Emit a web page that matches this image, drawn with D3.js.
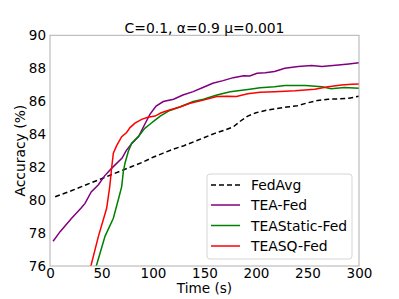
<!DOCTYPE html>
<html><head><meta charset="utf-8">
<script src="https://cdn.jsdelivr.net/npm/d3@7"></script>
<style>body{margin:0;background:#fff}svg{display:block}text{font-family:"DejaVu Sans",sans-serif}</style>
</head><body><svg id="c" width="399" height="299"></svg>
<script>
const title = "C=0.1, \u03b1=0.9 \u03bc=0.001";
const xTicks = [0,50,100,150,200,250,300];
const yTicks = [76,78,80,82,84,86,88,90];
const seriesNames = ["FedAvg","TEA-Fed","TEAStatic-Fed","TEASQ-Fed"];
const fedAvgT = [5,10,20,30,40,50,60,70,80,90,100,110,120,130,140,150,160,170,178,185,192,200,210,220,230,240,250,260,270,280,290,300];
const fedAvgV = [80.2,80.32,80.55,80.8,81.05,81.3,81.55,81.8,82.05,82.3,82.6,82.85,83.1,83.3,83.55,83.8,84.05,84.25,84.45,84.8,85.1,85.3,85.45,85.55,85.65,85.72,85.9,86.05,86.12,86.14,86.18,86.3];
const teaT = [3,10,21,30,34,40,47,53,60,70,74,79,86,92,97,103,110,120,129,139,149,158,168,178,188,194,201,209,218,228,241,254,264,280,290,300];
const teaV = [77.5,78.1,78.9,79.5,79.8,80.5,80.93,81.47,81.94,82.55,83.0,83.4,83.85,84.6,85.2,85.7,85.98,86.12,86.38,86.58,86.85,87.09,87.25,87.43,87.55,87.53,87.7,87.73,87.8,88.0,88.1,88.16,88.1,88.2,88.26,88.33];
const staticT = [42,45.3,53.4,61.5,66.3,69.6,71.2,72.8,76,79.3,85.7,92,97,102,107,115,126,139,149,162,175,194,204,218,228,248,264,273,286,300];
const staticV = [75.3,76.08,77.8,78.9,80.02,80.82,81.73,82.24,82.95,83.45,83.85,84.35,84.6,84.85,85.1,85.4,85.65,85.98,86.12,86.38,86.58,86.73,86.82,86.88,86.95,86.95,86.88,86.75,86.83,86.79];
const sqT = [36,40,47,55,58,60,61.5,64.7,69.6,74.4,77.7,82.5,89,95,102,108,116,126,136,148,162,172,181,192,204,218,238,257,270,283,293,300];
const sqV = [75.5,76.08,77.8,79.5,80.82,82.04,82.85,83.3,83.85,84.1,84.4,84.67,84.9,85.03,85.1,85.3,85.47,85.65,85.88,86.05,86.28,86.3,86.28,86.45,86.55,86.58,86.64,86.73,86.88,86.99,87.03,87.05];
const colors = ["#000000","#800080","#008000","#ff0000"];
const dashes = ["5,3",null,null,null];

const svg = d3.select("#c");
const m = {l:50,r:359,t:35.3,b:266};
const x = d3.scaleLinear().domain([0,300]).range([m.l,m.r]);
const y = d3.scaleLinear().domain([76,90]).range([m.b,m.t]);

svg.append("defs").append("clipPath").attr("id","clip").append("rect")
  .attr("x",m.l).attr("y",m.t).attr("width",m.r-m.l).attr("height",m.b-m.t);

const data = [[fedAvgT,fedAvgV],[teaT,teaV],[staticT,staticV],[sqT,sqV]];
const line = d3.line().x(d=>x(d[0])).y(d=>y(d[1]));
const g = svg.append("g").attr("clip-path","url(#clip)");
data.forEach((s,i)=>{
  const pts = s[0].map((t,j)=>[t,s[1][j]]);
  g.append("path").datum(pts).attr("d",line).attr("fill","none")
    .attr("stroke",colors[i]).attr("stroke-width",1.5)
    .attr("stroke-dasharray",dashes[i]);
});

// frame
svg.append("rect").attr("x",m.l).attr("y",m.t).attr("width",m.r-m.l).attr("height",m.b-m.t)
  .attr("fill","none").attr("stroke","#b0b0b0").attr("stroke-width",1);

const xa = svg.append("g").attr("transform",`translate(0,${m.b})`)
  .call(d3.axisBottom(x).tickValues(xTicks).tickSize(0).tickPadding(2));
xa.select(".domain").remove();
xa.selectAll("text").attr("font-size",13.5).attr("fill","#000").attr("font-family","DejaVu Sans");
const ya = svg.append("g").attr("transform",`translate(${m.l},0)`)
  .call(d3.axisLeft(y).tickValues(yTicks).tickSize(0).tickPadding(4));
ya.select(".domain").remove();
ya.selectAll("text").attr("font-size",13.5).attr("fill","#000").attr("font-family","DejaVu Sans");

svg.append("text").attr("x",(m.l+m.r)/2).attr("y",32.5).attr("text-anchor","middle")
  .attr("font-size",13.9).text(title);
svg.append("text").attr("x",(m.l+m.r)/2).attr("y",293).attr("text-anchor","middle")
  .attr("font-size",13.6).text("Time (s)");
svg.append("text").attr("transform",`translate(25,${(m.t+m.b)/2}) rotate(-90)`).attr("text-anchor","middle")
  .attr("font-size",13.9).text("Accuracy (%)");

// legend
const lg = svg.append("g");
lg.append("rect").attr("x",207).attr("y",174).attr("width",145).attr("height",85).attr("rx",3)
  .attr("fill","#fff").attr("fill-opacity",0.8).attr("stroke","#d5d5d5");
const ly = [185,205,225.5,246];
seriesNames.forEach((n,i)=>{
  lg.append("line").attr("x1",211).attr("x2",240).attr("y1",ly[i]).attr("y2",ly[i])
    .attr("stroke",colors[i]).attr("stroke-width",1.5).attr("stroke-dasharray",dashes[i]);
  lg.append("text").attr("x",251).attr("y",ly[i]+5).attr("font-size",13.9).text(n);
});
</script></body></html>
